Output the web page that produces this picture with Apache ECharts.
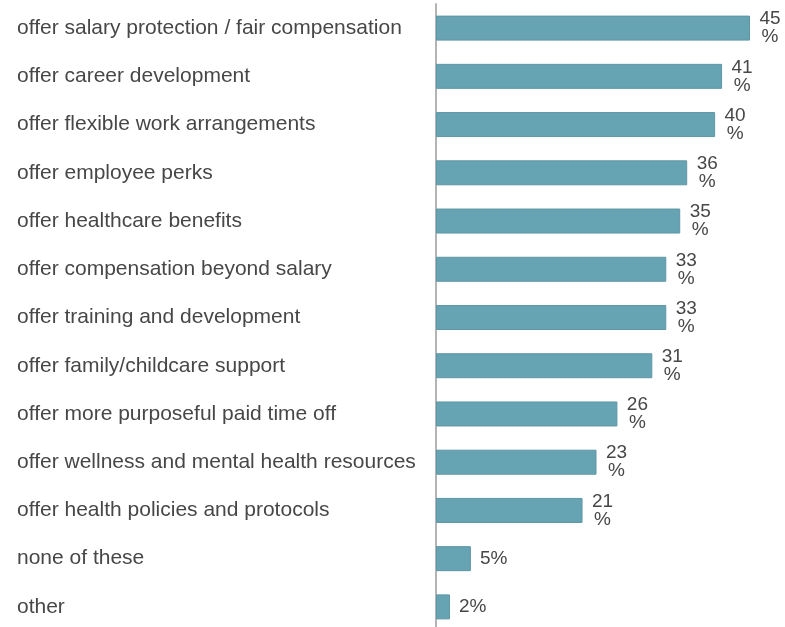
<!DOCTYPE html>
<html>
<head>
<meta charset="utf-8">
<script src="https://cdn.jsdelivr.net/npm/echarts@6/dist/echarts.min.js"></script>
<style>
  html, body { margin: 0; padding: 0; background: #fff; overflow: hidden; }
  #chart { width: 785px; height: 635px; }
</style>
</head>
<body>
<div id="chart"></div>
<script>
// Benefits offered, share of respondents (%)
const categories = [
  'offer salary protection / fair compensation',
  'offer career development',
  'offer flexible work arrangements',
  'offer employee perks',
  'offer healthcare benefits',
  'offer compensation beyond salary',
  'offer training and development',
  'offer family/childcare support',
  'offer more purposeful paid time off',
  'offer wellness and mental health resources',
  'offer health policies and protocols',
  'none of these',
  'other'
];
const values = [45, 41, 40, 36, 35, 33, 33, 31, 26, 23, 21, 5, 2];

const FONT = 'Liberation Sans, Arial, sans-serif';

const chart = echarts.init(document.getElementById('chart'));
chart.setOption({
  animation: false,
  grid: { left: 436, width: 314, top: 4, height: 627, containLabel: false },
  xAxis: {
    type: 'value', min: 0, max: 45,
    show: false
  },
  yAxis: {
    type: 'category',
    data: categories,
    inverse: true,
    axisLine: { show: true, lineStyle: { color: '#b4b4b4', width: 2 } },
    axisTick: { show: false },
    axisLabel: {
      align: 'left', margin: 419,
      color: '#474747', fontSize: 21, fontFamily: FONT
    }
  },
  series: [{
    type: 'bar',
    data: values,
    barWidth: 25,
    itemStyle: { color: '#66a3b3', borderColor: '#5f97a6', borderWidth: 1 },
    label: {
      show: true, position: 'right', distance: 9,
      color: '#474747', fontSize: 19, lineHeight: 18, align: 'left',
      fontFamily: FONT,
      // narrow label box: two-digit values wrap the % sign onto a second line
      formatter: p => p.value >= 10 ? '{a|' + p.value + '}\n{a|%}' : p.value + '%',
      rich: { a: { align: 'center', width: 22, fontSize: 19, lineHeight: 18, color: '#474747', fontFamily: FONT } }
    }
  }]
});
</script>
</body>
</html>
